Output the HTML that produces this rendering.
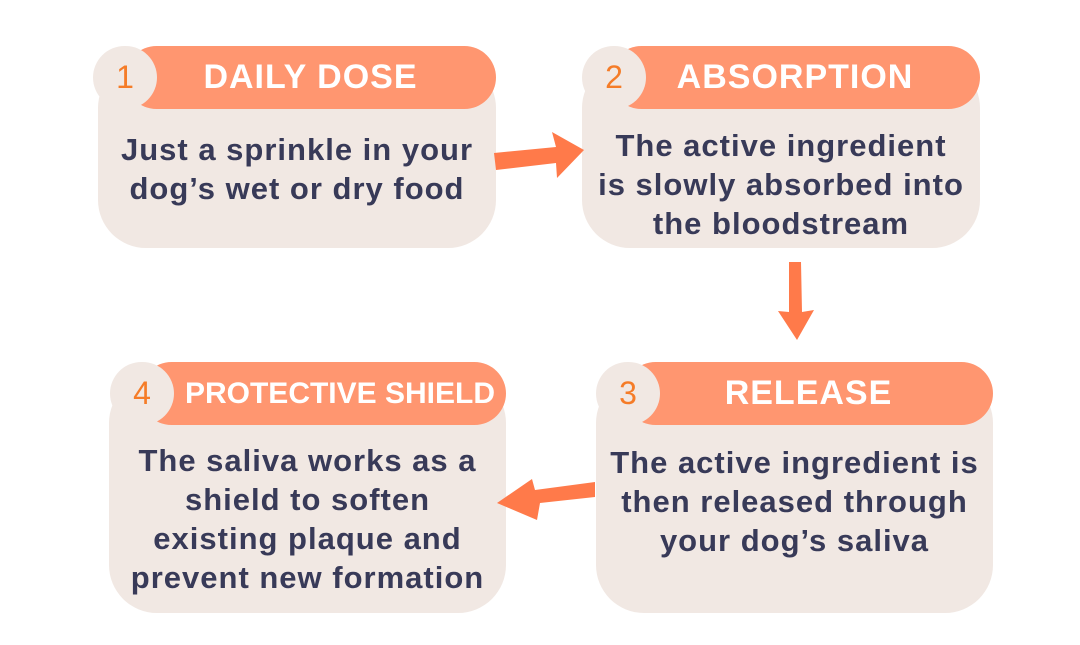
<!DOCTYPE html>
<html><head><style>
body{margin:0;width:1080px;height:645px;background:#fff;position:relative;overflow:hidden;font-family:"Liberation Sans",sans-serif}
.card{position:absolute;background:#f1e8e3;border-radius:48px}
.hdr{position:absolute;background:#ff9670;border-radius:32px;color:#fff;font-weight:bold;font-size:34px;text-align:center;line-height:63px;height:63px;letter-spacing:1px}
.num{position:absolute;width:64px;height:63px;border-radius:32px;background:#f1e8e3;color:#f57c28;font-size:32px;line-height:63px;text-align:center}
.txt{position:absolute;color:#383a58;font-size:31px;font-weight:bold;letter-spacing:1px;line-height:39px;text-align:center}
</style></head><body>
<div class="card" style="left:98px;top:60px;width:398px;height:188px"></div>
<div class="hdr" style="left:125px;top:46px;width:371px">DAILY DOSE</div>
<div class="num" style="left:93px;top:46px">1</div>
<div class="txt" style="left:98px;top:130px;width:398px">Just a sprinkle in your<br>dog’s wet or dry food</div>

<div class="card" style="left:582px;top:60px;width:398px;height:188px"></div>
<div class="hdr" style="left:610px;top:46px;width:370px">ABSORPTION</div>
<div class="num" style="left:582px;top:46px">2</div>
<div class="txt" style="left:582px;top:126px;width:398px">The active ingredient<br>is slowly absorbed into<br>the bloodstream</div>

<div class="card" style="left:596px;top:375px;width:397px;height:238px"></div>
<div class="hdr" style="left:624px;top:362px;width:369px">RELEASE</div>
<div class="num" style="left:596px;top:362px">3</div>
<div class="txt" style="left:596px;top:443px;width:397px">The active ingredient is<br>then released through<br>your dog’s saliva</div>

<div class="card" style="left:109px;top:375px;width:397px;height:238px"></div>
<div class="hdr" style="left:140px;top:362px;width:366px;font-size:30px;letter-spacing:0;text-indent:34px">PROTECTIVE SHIELD</div>
<div class="num" style="left:110px;top:362px">4</div>
<div class="txt" style="left:109px;top:441px;width:397px">The saliva works as a<br>shield to soften<br>existing plaque and<br>prevent new formation</div>

<svg width="1080" height="645" style="position:absolute;left:0;top:0">
<g fill="#ff7a4a">
<polygon points="494,153 556,147 552,132 584,150 557,178 556,163 496,170"/>
<polygon points="789,262 801,262 802,312 814,310 797,340 778,311 789,312"/>
<polygon points="595,482 595,497 540,503 537,520 497,503 532,479 535,490"/>
</g>
</svg>
</body></html>
